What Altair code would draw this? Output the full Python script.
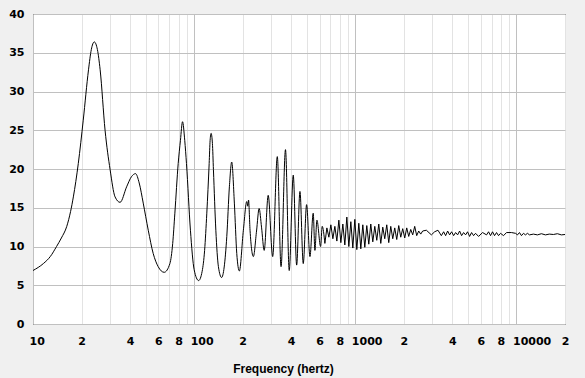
import altair as alt
import pandas as pd

freq_hz = [
    10.0, 11.6, 12.8, 14.0, 15.0, 16.2, 17.1, 17.8, 19.1, 20.5, 22.1, 23.0, 24.0, 25.1, 26.1,
    28.0, 30.1, 32.3, 34.7, 38.1, 40.8, 43.3, 45.6, 48.3, 51.9, 55.7, 59.8, 65.2, 70.7, 73.6,
    75.9, 79.6, 82.2, 84.7, 87.4, 89.6, 94.8, 100, 106.6, 112.1, 116.1, 119.8, 123.9, 125.6,
    127.4, 129.8, 131.7, 136.3, 141.4, 148, 159.4, 165.4, 171, 177.6, 183.8, 190.7, 202, 212,
    215.1, 217.5, 222.2, 233, 243.8, 253, 261.8, 272, 288, 307, 328, 346, 368.7, 389, 412,
    432.5, 453.3, 475.2, 498.6, 522.9, 548, 561.4, 577.7, 609, 623, 647.3,
    666.0, 685.3, 705.1, 725.5, 746.5, 768.1, 790.3, 813.2, 836.7, 860.9, 885.8, 911.4, 937.8,
    964.9, 992.8, 1021.5, 1051.1, 1081.5, 1112.8, 1145.0, 1178.1, 1212.2, 1247.3, 1283.4,
    1320.5, 1358.7, 1398.0, 1438.5, 1480.1, 1522.9, 1567.0, 1612.3, 1659.0, 1707.0, 1756.4,
    1807.2, 1859.5, 1913.3, 1968.7, 2025.7, 2084.3, 2144.6, 2206.7, 2270.5, 2336.2, 2403.8,
    2473.4, 2545.0, 2618.6, 2760, 2964, 3107, 3256, 3418, 3532, 3634, 3739, 3847, 3959, 4073,
    4191, 4312, 4437, 4565, 4697, 4833, 4973, 5117, 5265, 5417, 5574, 5818, 6159, 6521, 6709,
    6903, 7103, 7309, 7520, 7738, 7962, 8310, 8673, 9314, 9861, 10144, 10437, 10739, 11050,
    11370, 11699, 12037, 12743, 13491, 14283, 15121, 15976, 16947, 17942, 18995, 20000,
]

level = [
    6.9, 7.8, 8.7, 10.0, 11.1, 12.6, 14.5, 16.4, 20.7, 26.3, 32.8, 35.4, 36.4, 35.4, 32.8,
    25.0, 19.9, 16.4, 15.7, 17.7, 19.0, 19.4, 18.2, 15.6, 12.1, 9.1, 7.4, 6.67, 7.8, 10.4,
    14.3, 20.7, 23.7, 26.1, 23.7, 20.7, 12.1, 7.0, 5.6, 6.8, 9.5, 14.3, 20.7, 23.7,
    24.6, 23.3, 19.9, 12.1, 7.4, 6.0, 11.3, 17.7, 20.9, 15.6, 9.1, 6.84, 12.1, 15.8,
    15.2, 16.0, 12.1, 8.7, 12.0, 14.9, 12.5, 9.5, 16.6, 8.7, 21.6, 7.4, 22.5, 6.9, 19.2,
    7.6, 17.1, 7.8, 15.4, 8.7, 14.3, 9.5, 13.4, 10.0, 12.6, 10.4,
    12.4, 11.2, 12.8, 11.0, 12.6, 10.7, 13.4, 10.5, 12.9, 10.2, 13.8, 10.0, 13.2,
    9.8, 13.5, 9.6, 13.0, 9.7, 12.8, 9.9, 12.7, 10.3, 12.9, 10.6,
    12.6, 10.8, 12.9, 10.4, 12.5, 11.0, 12.8, 10.5, 12.6, 11.0, 12.4,
    10.9, 12.7, 11.2, 12.3, 11.1, 12.4, 11.3, 12.2, 11.5, 12.6, 11.4,
    12.0, 11.6, 12.0, 12.1, 11.5, 11.9, 12.1, 11.4, 11.9, 11.4, 12.0, 11.5, 11.9, 11.4,
    11.8, 11.5, 12.0, 11.4, 11.8, 11.5, 11.9, 11.3, 11.8, 11.4, 11.7, 11.3, 11.8, 11.5, 11.9,
    11.4, 11.9, 11.4, 11.8, 11.4, 11.7, 11.4, 11.8, 11.8, 11.7, 11.5, 11.8, 11.4, 11.7,
    11.5, 11.7, 11.5, 11.6, 11.5, 11.65, 11.5, 11.6, 11.55, 11.65, 11.5, 11.55,
]

# above this frequency the trace is a jagged, point-to-point trace
jagged_from_hz = 647.3

x_ticks = [10, 20, 30, 40, 50, 60, 70, 80, 90,
           100, 200, 300, 400, 500, 600, 700, 800, 900,
           1000, 2000, 3000, 4000, 5000, 6000, 7000, 8000, 9000,
           10000, 20000]
decades = [10, 100, 1000, 10000]
labelled_digits = [20, 40, 60, 80, 200, 400, 600, 800, 2000, 4000, 6000, 8000, 20000]
y_ticks = [0, 5, 10, 15, 20, 25, 30, 35, 40]

df = pd.DataFrame({"freq": freq_hz, "level": level})

dec_arr = "[" + ",".join(str(d) for d in decades) + "]"
dig_arr = "[" + ",".join(str(d) for d in labelled_digits) + "]"
is_decade = f"indexof({dec_arr}, datum.value) >= 0"

label_expr = (
    f"{is_decade} ? datum.label : "
    f"(indexof({dig_arr}, datum.value) >= 0 ? substring(datum.label, 0, 1) : '')"
)

x_axis = alt.Axis(
    values=x_ticks,
    format="d",
    labelExpr=label_expr,
    title="Frequency (hertz)",
    titleFont="Liberation Sans",
    titleFontSize=12,
    titleFontWeight="bold",
    titleColor="#000000",
    titleX=250,
    titleY=48,
    titleAlign="center",
    titleBaseline="alphabetic",
    labelFont="DejaVu Sans",
    labelFontSize=11,
    labelFontWeight="bold",
    labelColor="#000000",
    labelPadding=11,
    labelOverlap=False,
    labelFlush=False,
    labelBound=False,
    labelAlign={"condition": {"test": is_decade, "value": "left"}, "value": "center"},
    labelOffset={"condition": {"test": is_decade, "value": -4}, "value": 0},
    ticks=False,
    tickSize=0,
    domain=False,
    grid=True,
    gridColor={"condition": {"test": is_decade, "value": "#c0c0c0"}, "value": "#e3e3e3"},
    gridWidth=1,
)

y_axis = alt.Axis(
    values=y_ticks,
    title=None,
    labelFont="DejaVu Sans",
    labelFontSize=11,
    labelFontWeight="bold",
    labelColor="#000000",
    labelPadding=9,
    ticks=False,
    tickSize=0,
    domain=False,
    grid=True,
    gridColor="#c0c0c0",
    gridWidth=1,
)

x_enc = alt.X("freq:Q", scale=alt.Scale(type="log", domain=[10, 20000], nice=False), axis=x_axis)
y_enc = alt.Y("level:Q", scale=alt.Scale(domain=[0, 40], nice=False), axis=y_axis)

base = alt.Chart(df).encode(x=x_enc, y=y_enc, order=alt.Order("freq:Q"))

smooth = base.transform_filter(f"datum.freq <= {jagged_from_hz}").mark_line(
    color="#000000", strokeWidth=1, interpolate="monotone"
)
jagged = base.transform_filter(f"datum.freq >= {jagged_from_hz}").mark_line(
    color="#000000", strokeWidth=1, interpolate="linear"
)

chart = (
    alt.layer(smooth, jagged)
    .properties(
        width=532,
        height=310,
        autosize=alt.AutoSizeParams(type="none"),
        padding={"left": 33, "top": 14, "right": 20, "bottom": 54},
        background="#f0f0f0",
    )
    .configure_view(fill="#ffffff", stroke="#000000", strokeWidth=1)
)

chart.save("out.html", embed_options={"renderer": "svg", "actions": False})
